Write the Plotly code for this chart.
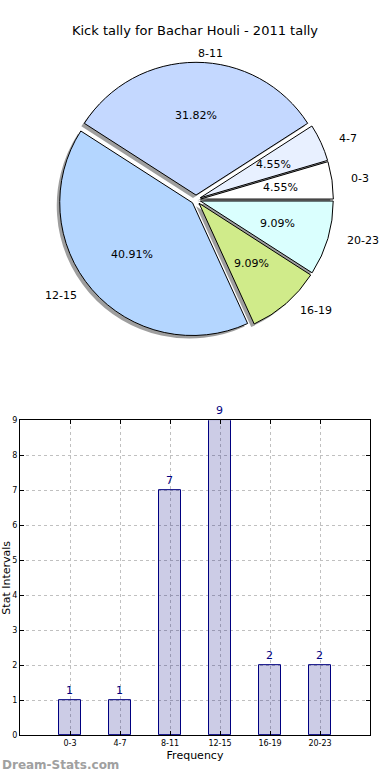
import math
import plotly.graph_objects as go

categories = ["0-3", "4-7", "8-11", "12-15", "16-19", "20-23"]
counts = [1, 1, 7, 9, 2, 2]
pie_colors = ["#ffffff", "#e8f0ff", "#c4d8ff", "#b4d6ff", "#d0eb8a", "#dafffe"]
title_text = "Kick tally for Bachar Houli - 2011 tally"
watermark = "Dream-Stats.com"

W, H = 390, 780
FONT = "DejaVu Sans"

# pie geometry (pixels)
cx, cy, rad = 196, 198, 139
PULL = 0.035
pull = [PULL] * len(counts)
r_pie = rad / (1 + PULL)
total = sum(counts)
# plotly counterclockwise: first slice ends at rotation; make first slice start at 3 o'clock
rotation = 90 - 360 * counts[0] / total

def dom(dx=0, dy=0):
    return dict(
        x=[(cx - rad + dx) / W, (cx + rad + dx) / W],
        y=[1 - (cy + rad + dy) / H, 1 - (cy - rad + dy) / H],
    )

common = dict(labels=categories, values=counts, sort=False, direction="counterclockwise",
              rotation=rotation, pull=pull, showlegend=False, hoverinfo="skip", textinfo="none")

fig = go.Figure()
# shadow
fig.add_trace(go.Pie(**common, domain=dom(-3, 3),
                     marker=dict(colors=["rgba(0,0,0,0.38)"] * len(counts), line=dict(width=0))))
# main pie
fig.add_trace(go.Pie(**common, domain=dom(),
                     marker=dict(colors=pie_colors, line=dict(color="black", width=1))))

# slice labels (label outside, percentage inside), placed along each slice's mid-angle
annotations = []
start = 0.0
for lab, v in zip(categories, counts):
    frac = v / total
    mid = math.radians((start + frac / 2) * 360)
    start += frac
    c, s = math.cos(mid), math.sin(mid)
    # outside category label
    lx, ly = cx + 155 * c, cy - 148 * s
    annotations.append(dict(text=lab, x=lx / W, y=1 - ly / H, xref="paper", yref="paper",
                            xanchor="left" if c >= 0 else "right", yanchor="middle",
                            showarrow=False, font=dict(family=FONT, size=11, color="black")))
    # percentage inside
    d = 0.6 * r_pie + PULL * r_pie
    px_, py_ = cx + d * c, cy - d * s
    annotations.append(dict(text=f"{frac * 100:.2f}%", x=px_ / W, y=1 - py_ / H,
                            xref="paper", yref="paper", xanchor="center", yanchor="middle",
                            showarrow=False, font=dict(family=FONT, size=11, color="black")))

annotations.append(dict(text="<b>" + watermark + "</b>", x=0, y=1 - 770 / H, xref="paper",
                        yref="paper", xanchor="left", yanchor="middle", showarrow=False,
                        font=dict(family=FONT, size=12, color="#a0a0a0")))

# bar chart
fig.add_trace(go.Bar(x=categories, y=counts, width=0.45,
                     marker=dict(color="rgba(0,0,128,0.2)", line=dict(color="navy", width=1)),
                     text=[str(v) for v in counts], textposition="outside", cliponaxis=False,
                     textfont=dict(family=FONT, size=11, color="navy"),
                     showlegend=False, hoverinfo="skip"))

fig.update_layout(
    width=W, height=H, margin=dict(l=0, r=0, t=0, b=0),
    paper_bgcolor="white", plot_bgcolor="white",
    font=dict(family=FONT, color="black"),
    title=dict(text=title_text, x=0.5, xanchor="center", y=1 - 30 / H, yanchor="middle",
               font=dict(family=FONT, size=13, color="black")),
    xaxis=dict(domain=[20 / W, 370 / W], range=[-1, 6], type="category",
               showgrid=True, gridcolor="#c0c0c0", griddash="dot", gridwidth=1,
               showline=True, linecolor="black", linewidth=1, mirror="ticks",
               ticks="inside", ticklen=4, tickcolor="black",
               tickfont=dict(family=FONT, size=8, color="black"),
               title=dict(text="Frequency", font=dict(family=FONT, size=11), standoff=4),
               zeroline=False),
    yaxis=dict(domain=[1 - 740 / H, 1 - 421 / H], range=[0, 9], dtick=1,
               showgrid=True, gridcolor="#c0c0c0", griddash="dot", gridwidth=1,
               showline=True, linecolor="black", linewidth=1, mirror="ticks",
               ticks="inside", ticklen=4, tickcolor="black",
               tickfont=dict(family=FONT, size=8, color="black"),
               title=dict(text="Stat Intervals", font=dict(family=FONT, size=11), standoff=0),
               zeroline=False),
    bargap=0,
    annotations=annotations,
)

fig.write_html("out.html", config={"displayModeBar": False},
               post_script=("document.documentElement.style.margin='0';"
                            "document.body.style.margin='0';document.body.style.padding='0';"
                            "document.documentElement.style.overflow='hidden';"
                            "document.body.style.overflow='hidden';"))
